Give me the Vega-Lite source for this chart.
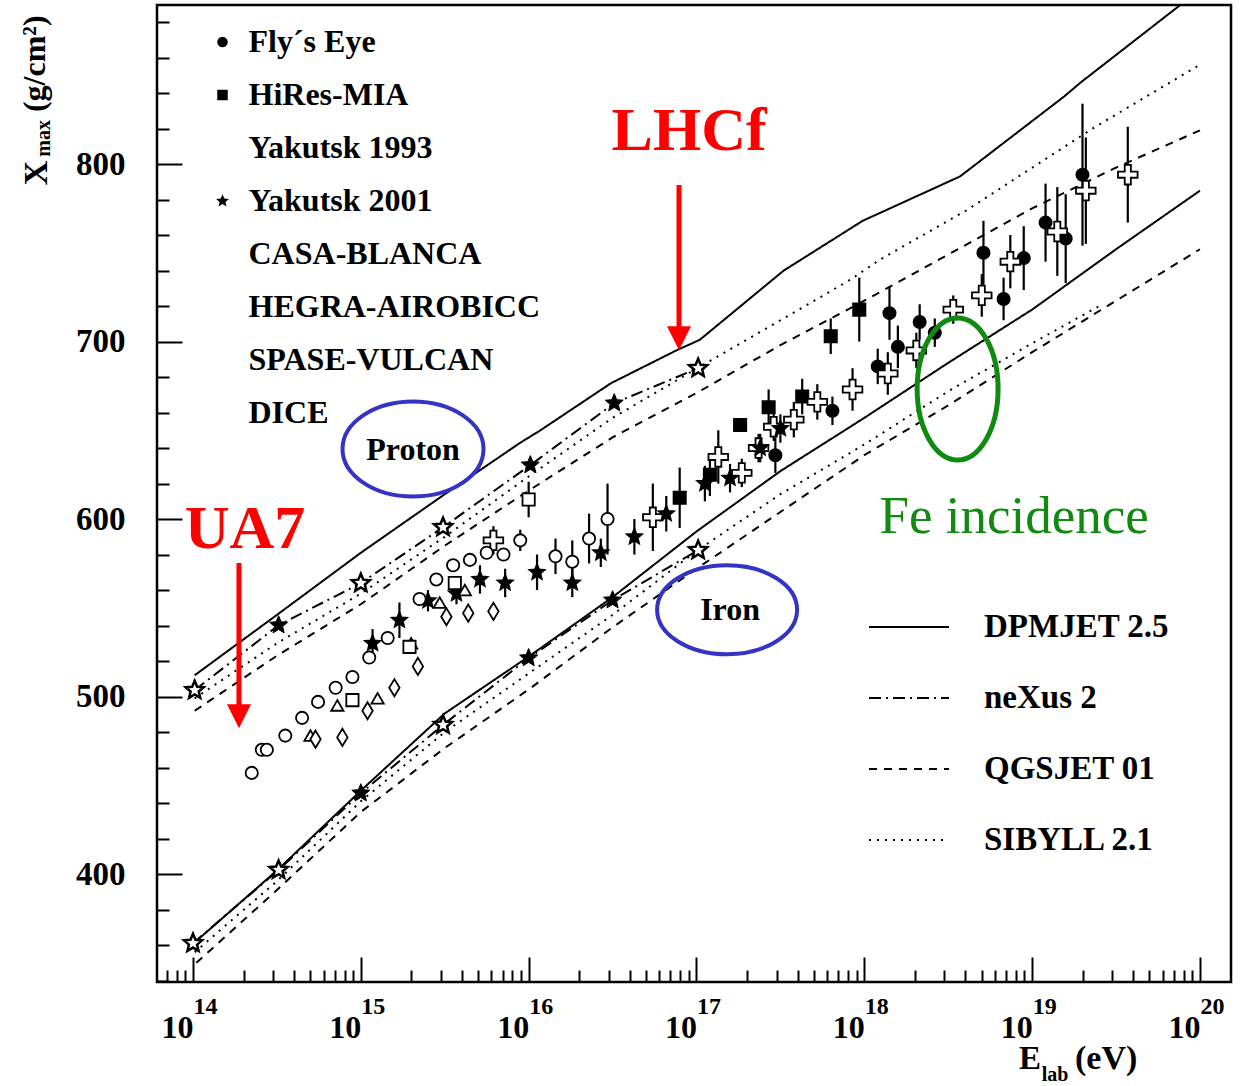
{
  "$schema": "https://vega.github.io/schema/vega-lite/v6.json",
  "width": 1074,
  "height": 977,
  "autosize": "none",
  "padding": {"left": 157, "top": 5, "right": 16, "bottom": 104},
  "background": "white",
  "config": {
    "view": {"stroke": "black", "strokeWidth": 2.5},
    "axis": {"domain": false, "grid": false, "labelFont": "Liberation Serif", "labelFontWeight": "bold", "labelColor": "black", "tickColor": "black", "labelFlush": false, "labelOverlap": false},
    "legend": {"labelFont": "Liberation Serif", "labelFontWeight": "bold", "labelColor": "black", "labelLimit": 1000, "padding": 0},
    "text": {"font": "Liberation Serif"}
  },
  "datasets": {
    "models": [
      {"model": "DPMJET 2.5", "particle": "p", "lgE": 14.01, "X": 512},
      {"model": "DPMJET 2.5", "particle": "p", "lgE": 14.5, "X": 546},
      {"model": "DPMJET 2.5", "particle": "p", "lgE": 15.0, "X": 581},
      {"model": "DPMJET 2.5", "particle": "p", "lgE": 15.5, "X": 614},
      {"model": "DPMJET 2.5", "particle": "p", "lgE": 15.95, "X": 643},
      {"model": "DPMJET 2.5", "particle": "p", "lgE": 16.07, "X": 650},
      {"model": "DPMJET 2.5", "particle": "p", "lgE": 16.49, "X": 676.5},
      {"model": "DPMJET 2.5", "particle": "p", "lgE": 16.88, "X": 695},
      {"model": "DPMJET 2.5", "particle": "p", "lgE": 17.02, "X": 701},
      {"model": "DPMJET 2.5", "particle": "p", "lgE": 17.52, "X": 740},
      {"model": "DPMJET 2.5", "particle": "p", "lgE": 17.99, "X": 768},
      {"model": "DPMJET 2.5", "particle": "p", "lgE": 18.57, "X": 793},
      {"model": "DPMJET 2.5", "particle": "p", "lgE": 19.19, "X": 838},
      {"model": "DPMJET 2.5", "particle": "p", "lgE": 19.29, "X": 846},
      {"model": "DPMJET 2.5", "particle": "p", "lgE": 19.88, "X": 889.4},
      {"model": "neXus 2", "particle": "p", "lgE": 14.01, "X": 503.6},
      {"model": "neXus 2", "particle": "p", "lgE": 14.51, "X": 540.2},
      {"model": "neXus 2", "particle": "p", "lgE": 15.0, "X": 563.9},
      {"model": "neXus 2", "particle": "p", "lgE": 15.49, "X": 595.4},
      {"model": "neXus 2", "particle": "p", "lgE": 16.01, "X": 630.4},
      {"model": "neXus 2", "particle": "p", "lgE": 16.51, "X": 665.3},
      {"model": "neXus 2", "particle": "p", "lgE": 17.01, "X": 685},
      {"model": "SIBYLL 2.1", "particle": "p", "lgE": 14.01, "X": 499},
      {"model": "SIBYLL 2.1", "particle": "p", "lgE": 14.5, "X": 530},
      {"model": "SIBYLL 2.1", "particle": "p", "lgE": 15.0, "X": 558},
      {"model": "SIBYLL 2.1", "particle": "p", "lgE": 15.5, "X": 590},
      {"model": "SIBYLL 2.1", "particle": "p", "lgE": 16.0, "X": 624},
      {"model": "SIBYLL 2.1", "particle": "p", "lgE": 16.5, "X": 657},
      {"model": "SIBYLL 2.1", "particle": "p", "lgE": 17.06, "X": 688},
      {"model": "SIBYLL 2.1", "particle": "p", "lgE": 17.5, "X": 712},
      {"model": "SIBYLL 2.1", "particle": "p", "lgE": 17.92, "X": 735},
      {"model": "SIBYLL 2.1", "particle": "p", "lgE": 18.09, "X": 746},
      {"model": "SIBYLL 2.1", "particle": "p", "lgE": 18.61, "X": 774},
      {"model": "SIBYLL 2.1", "particle": "p", "lgE": 19.36, "X": 820},
      {"model": "SIBYLL 2.1", "particle": "p", "lgE": 19.84, "X": 847},
      {"model": "SIBYLL 2.1", "particle": "p", "lgE": 20.0, "X": 856},
      {"model": "QGSJET 01", "particle": "p", "lgE": 14.01, "X": 492},
      {"model": "QGSJET 01", "particle": "p", "lgE": 14.5, "X": 523},
      {"model": "QGSJET 01", "particle": "p", "lgE": 15.0, "X": 552},
      {"model": "QGSJET 01", "particle": "p", "lgE": 15.5, "X": 585},
      {"model": "QGSJET 01", "particle": "p", "lgE": 16.0, "X": 616},
      {"model": "QGSJET 01", "particle": "p", "lgE": 16.5, "X": 646},
      {"model": "QGSJET 01", "particle": "p", "lgE": 17.0, "X": 671},
      {"model": "QGSJET 01", "particle": "p", "lgE": 17.5, "X": 698},
      {"model": "QGSJET 01", "particle": "p", "lgE": 18.0, "X": 723},
      {"model": "QGSJET 01", "particle": "p", "lgE": 18.5, "X": 749},
      {"model": "QGSJET 01", "particle": "p", "lgE": 19.0, "X": 775},
      {"model": "QGSJET 01", "particle": "p", "lgE": 19.5, "X": 798},
      {"model": "QGSJET 01", "particle": "p", "lgE": 20.0, "X": 819},
      {"model": "DPMJET 2.5", "particle": "Fe", "lgE": 14.01, "X": 361.5},
      {"model": "DPMJET 2.5", "particle": "Fe", "lgE": 14.5, "X": 402},
      {"model": "DPMJET 2.5", "particle": "Fe", "lgE": 15.0, "X": 447},
      {"model": "DPMJET 2.5", "particle": "Fe", "lgE": 15.5, "X": 490.5},
      {"model": "DPMJET 2.5", "particle": "Fe", "lgE": 16.0, "X": 522.5},
      {"model": "DPMJET 2.5", "particle": "Fe", "lgE": 16.5, "X": 556},
      {"model": "DPMJET 2.5", "particle": "Fe", "lgE": 17.0, "X": 593},
      {"model": "DPMJET 2.5", "particle": "Fe", "lgE": 17.5, "X": 627},
      {"model": "DPMJET 2.5", "particle": "Fe", "lgE": 18.0, "X": 657},
      {"model": "DPMJET 2.5", "particle": "Fe", "lgE": 18.5, "X": 688},
      {"model": "DPMJET 2.5", "particle": "Fe", "lgE": 19.0, "X": 718},
      {"model": "DPMJET 2.5", "particle": "Fe", "lgE": 19.5, "X": 752},
      {"model": "DPMJET 2.5", "particle": "Fe", "lgE": 20.0, "X": 785},
      {"model": "neXus 2", "particle": "Fe", "lgE": 14.0, "X": 361},
      {"model": "neXus 2", "particle": "Fe", "lgE": 14.51, "X": 402.3},
      {"model": "neXus 2", "particle": "Fe", "lgE": 15.0, "X": 445.6},
      {"model": "neXus 2", "particle": "Fe", "lgE": 15.49, "X": 484},
      {"model": "neXus 2", "particle": "Fe", "lgE": 16.0, "X": 521.7},
      {"model": "neXus 2", "particle": "Fe", "lgE": 16.5, "X": 554.3},
      {"model": "neXus 2", "particle": "Fe", "lgE": 17.01, "X": 582.5},
      {"model": "SIBYLL 2.1", "particle": "Fe", "lgE": 14.01, "X": 356},
      {"model": "SIBYLL 2.1", "particle": "Fe", "lgE": 14.5, "X": 396},
      {"model": "SIBYLL 2.1", "particle": "Fe", "lgE": 15.0, "X": 441},
      {"model": "SIBYLL 2.1", "particle": "Fe", "lgE": 15.5, "X": 480},
      {"model": "SIBYLL 2.1", "particle": "Fe", "lgE": 16.0, "X": 513},
      {"model": "SIBYLL 2.1", "particle": "Fe", "lgE": 16.5, "X": 546},
      {"model": "SIBYLL 2.1", "particle": "Fe", "lgE": 17.0, "X": 582},
      {"model": "SIBYLL 2.1", "particle": "Fe", "lgE": 17.5, "X": 614},
      {"model": "SIBYLL 2.1", "particle": "Fe", "lgE": 18.0, "X": 642},
      {"model": "SIBYLL 2.1", "particle": "Fe", "lgE": 18.5, "X": 672},
      {"model": "SIBYLL 2.1", "particle": "Fe", "lgE": 19.0, "X": 699},
      {"model": "SIBYLL 2.1", "particle": "Fe", "lgE": 19.4, "X": 720},
      {"model": "QGSJET 01", "particle": "Fe", "lgE": 14.02, "X": 350},
      {"model": "QGSJET 01", "particle": "Fe", "lgE": 14.5, "X": 391},
      {"model": "QGSJET 01", "particle": "Fe", "lgE": 15.0, "X": 435},
      {"model": "QGSJET 01", "particle": "Fe", "lgE": 15.5, "X": 471},
      {"model": "QGSJET 01", "particle": "Fe", "lgE": 16.0, "X": 504},
      {"model": "QGSJET 01", "particle": "Fe", "lgE": 16.5, "X": 539},
      {"model": "QGSJET 01", "particle": "Fe", "lgE": 17.0, "X": 572},
      {"model": "QGSJET 01", "particle": "Fe", "lgE": 17.5, "X": 604},
      {"model": "QGSJET 01", "particle": "Fe", "lgE": 18.0, "X": 636},
      {"model": "QGSJET 01", "particle": "Fe", "lgE": 18.5, "X": 664},
      {"model": "QGSJET 01", "particle": "Fe", "lgE": 19.0, "X": 694},
      {"model": "QGSJET 01", "particle": "Fe", "lgE": 19.5, "X": 723},
      {"model": "QGSJET 01", "particle": "Fe", "lgE": 20.0, "X": 752}
    ],
    "stars": [
      {"particle": "p", "lgE": 14.01, "X": 503.6, "symbol": "open"},
      {"particle": "p", "lgE": 14.51, "X": 540.2, "symbol": "filled"},
      {"particle": "p", "lgE": 15.0, "X": 563.9, "symbol": "open"},
      {"particle": "p", "lgE": 15.49, "X": 595.4, "symbol": "open"},
      {"particle": "p", "lgE": 16.01, "X": 630.4, "symbol": "filled"},
      {"particle": "p", "lgE": 16.51, "X": 665.3, "symbol": "filled"},
      {"particle": "p", "lgE": 17.01, "X": 685, "symbol": "open"},
      {"particle": "Fe", "lgE": 14.0, "X": 361, "symbol": "open"},
      {"particle": "Fe", "lgE": 14.51, "X": 402.3, "symbol": "open"},
      {"particle": "Fe", "lgE": 15.0, "X": 445.6, "symbol": "filled"},
      {"particle": "Fe", "lgE": 15.49, "X": 484, "symbol": "open"},
      {"particle": "Fe", "lgE": 16.0, "X": 521.7, "symbol": "filled"},
      {"particle": "Fe", "lgE": 16.5, "X": 554.3, "symbol": "filled"},
      {"particle": "Fe", "lgE": 17.01, "X": 582.5, "symbol": "open"}
    ],
    "exps": [
      {"exp": "Fly´s Eye", "lgE": 17.47, "X": 636, "err": 10},
      {"exp": "Fly´s Eye", "lgE": 17.81, "X": 661, "err": 8},
      {"exp": "Fly´s Eye", "lgE": 18.08, "X": 686, "err": 10},
      {"exp": "Fly´s Eye", "lgE": 18.15, "X": 716, "err": 15},
      {"exp": "Fly´s Eye", "lgE": 18.2, "X": 697, "err": 12},
      {"exp": "Fly´s Eye", "lgE": 18.33, "X": 711, "err": 10},
      {"exp": "Fly´s Eye", "lgE": 18.42, "X": 705, "err": 8},
      {"exp": "Fly´s Eye", "lgE": 18.71, "X": 750, "err": 18},
      {"exp": "Fly´s Eye", "lgE": 18.83, "X": 724, "err": 12},
      {"exp": "Fly´s Eye", "lgE": 18.95, "X": 747, "err": 18},
      {"exp": "Fly´s Eye", "lgE": 19.08, "X": 767, "err": 22},
      {"exp": "Fly´s Eye", "lgE": 19.2, "X": 758, "err": 25},
      {"exp": "Fly´s Eye", "lgE": 19.3, "X": 794, "err": 40},
      {"exp": "HiRes-MIA", "lgE": 16.9, "X": 612, "err": 17},
      {"exp": "HiRes-MIA", "lgE": 17.08, "X": 625, "err": 12},
      {"exp": "HiRes-MIA", "lgE": 17.26, "X": 653, "err": 0},
      {"exp": "HiRes-MIA", "lgE": 17.43, "X": 663, "err": 10},
      {"exp": "HiRes-MIA", "lgE": 17.63, "X": 669, "err": 10},
      {"exp": "HiRes-MIA", "lgE": 17.8, "X": 703, "err": 10},
      {"exp": "HiRes-MIA", "lgE": 17.97, "X": 718, "err": 18},
      {"exp": "Yakutsk 1993", "lgE": 15.79, "X": 588, "err": 8},
      {"exp": "Yakutsk 1993", "lgE": 16.74, "X": 601, "err": 19},
      {"exp": "Yakutsk 1993", "lgE": 17.13, "X": 635, "err": 15},
      {"exp": "Yakutsk 1993", "lgE": 17.27, "X": 626, "err": 8},
      {"exp": "Yakutsk 1993", "lgE": 17.37, "X": 640, "err": 8},
      {"exp": "Yakutsk 1993", "lgE": 17.46, "X": 652, "err": 8},
      {"exp": "Yakutsk 1993", "lgE": 17.58, "X": 656, "err": 10},
      {"exp": "Yakutsk 1993", "lgE": 17.72, "X": 666, "err": 10},
      {"exp": "Yakutsk 1993", "lgE": 17.93, "X": 673, "err": 12},
      {"exp": "Yakutsk 1993", "lgE": 18.14, "X": 682, "err": 12},
      {"exp": "Yakutsk 1993", "lgE": 18.31, "X": 695, "err": 10},
      {"exp": "Yakutsk 1993", "lgE": 18.53, "X": 718, "err": 8},
      {"exp": "Yakutsk 1993", "lgE": 18.7, "X": 726, "err": 12},
      {"exp": "Yakutsk 1993", "lgE": 18.87, "X": 745, "err": 15},
      {"exp": "Yakutsk 1993", "lgE": 19.15, "X": 762, "err": 25},
      {"exp": "Yakutsk 1993", "lgE": 19.32, "X": 785, "err": 30},
      {"exp": "Yakutsk 1993", "lgE": 19.57, "X": 794, "err": 27},
      {"exp": "Yakutsk 2001", "lgE": 15.07, "X": 530, "err": 8},
      {"exp": "Yakutsk 2001", "lgE": 15.23, "X": 543, "err": 10},
      {"exp": "Yakutsk 2001", "lgE": 15.4, "X": 554, "err": 6},
      {"exp": "Yakutsk 2001", "lgE": 15.57, "X": 558, "err": 6},
      {"exp": "Yakutsk 2001", "lgE": 15.71, "X": 566, "err": 8},
      {"exp": "Yakutsk 2001", "lgE": 15.86, "X": 564, "err": 8},
      {"exp": "Yakutsk 2001", "lgE": 16.05, "X": 570, "err": 10},
      {"exp": "Yakutsk 2001", "lgE": 16.26, "X": 564, "err": 8},
      {"exp": "Yakutsk 2001", "lgE": 16.43, "X": 581, "err": 8},
      {"exp": "Yakutsk 2001", "lgE": 16.63, "X": 590, "err": 10},
      {"exp": "Yakutsk 2001", "lgE": 16.82, "X": 603, "err": 10},
      {"exp": "Yakutsk 2001", "lgE": 17.05, "X": 620, "err": 10},
      {"exp": "Yakutsk 2001", "lgE": 17.2, "X": 623, "err": 8},
      {"exp": "Yakutsk 2001", "lgE": 17.38, "X": 640, "err": 8},
      {"exp": "Yakutsk 2001", "lgE": 17.5, "X": 651, "err": 8},
      {"exp": "CASA-BLANCA", "lgE": 14.35, "X": 457, "err": 0},
      {"exp": "CASA-BLANCA", "lgE": 14.41, "X": 470, "err": 0},
      {"exp": "CASA-BLANCA", "lgE": 14.44, "X": 470, "err": 0},
      {"exp": "CASA-BLANCA", "lgE": 14.55, "X": 478, "err": 0},
      {"exp": "CASA-BLANCA", "lgE": 14.65, "X": 488, "err": 0},
      {"exp": "CASA-BLANCA", "lgE": 14.745, "X": 497, "err": 0},
      {"exp": "CASA-BLANCA", "lgE": 14.85, "X": 505, "err": 0},
      {"exp": "CASA-BLANCA", "lgE": 14.95, "X": 511, "err": 0},
      {"exp": "CASA-BLANCA", "lgE": 15.05, "X": 522, "err": 0},
      {"exp": "CASA-BLANCA", "lgE": 15.16, "X": 533, "err": 0},
      {"exp": "CASA-BLANCA", "lgE": 15.35, "X": 555, "err": 0},
      {"exp": "CASA-BLANCA", "lgE": 15.45, "X": 566, "err": 0},
      {"exp": "CASA-BLANCA", "lgE": 15.55, "X": 574, "err": 0},
      {"exp": "CASA-BLANCA", "lgE": 15.65, "X": 577, "err": 0},
      {"exp": "CASA-BLANCA", "lgE": 15.75, "X": 581, "err": 0},
      {"exp": "CASA-BLANCA", "lgE": 15.85, "X": 580, "err": 0},
      {"exp": "CASA-BLANCA", "lgE": 15.95, "X": 588, "err": 6},
      {"exp": "CASA-BLANCA", "lgE": 16.16, "X": 579, "err": 10},
      {"exp": "CASA-BLANCA", "lgE": 16.26, "X": 576, "err": 12},
      {"exp": "CASA-BLANCA", "lgE": 16.36, "X": 589, "err": 14},
      {"exp": "CASA-BLANCA", "lgE": 16.47, "X": 600, "err": 20},
      {"exp": "HEGRA-AIROBICC", "lgE": 14.7, "X": 478, "err": 0},
      {"exp": "HEGRA-AIROBICC", "lgE": 14.86, "X": 495, "err": 0},
      {"exp": "HEGRA-AIROBICC", "lgE": 15.1, "X": 499, "err": 0},
      {"exp": "HEGRA-AIROBICC", "lgE": 15.3, "X": 530, "err": 0},
      {"exp": "HEGRA-AIROBICC", "lgE": 15.47, "X": 553, "err": 0},
      {"exp": "HEGRA-AIROBICC", "lgE": 15.62, "X": 560, "err": 0},
      {"exp": "SPASE-VULCAN", "lgE": 14.73, "X": 476, "err": 0},
      {"exp": "SPASE-VULCAN", "lgE": 14.89, "X": 477, "err": 0},
      {"exp": "SPASE-VULCAN", "lgE": 15.04, "X": 492, "err": 0},
      {"exp": "SPASE-VULCAN", "lgE": 15.2, "X": 505, "err": 0},
      {"exp": "SPASE-VULCAN", "lgE": 15.34, "X": 517, "err": 0},
      {"exp": "SPASE-VULCAN", "lgE": 15.51, "X": 545, "err": 0},
      {"exp": "SPASE-VULCAN", "lgE": 15.64, "X": 547, "err": 0},
      {"exp": "SPASE-VULCAN", "lgE": 15.79, "X": 548, "err": 0},
      {"exp": "DICE", "lgE": 14.95, "X": 498, "err": 0},
      {"exp": "DICE", "lgE": 15.29, "X": 528, "err": 0},
      {"exp": "DICE", "lgE": 15.56, "X": 564, "err": 0},
      {"exp": "DICE", "lgE": 16.0, "X": 611, "err": 10}
    ]
  },
  "resolve": {"axis": {"x": "independent", "y": "independent"}},
  "layer": [
    {
      "data": {"name": "models"},
      "mark": {"type": "line", "strokeWidth": 2, "color": "black"},
      "encoding": {
        "x": {"field": "lgE", "type": "quantitative", "scale": {"domain": [13.7855, 20.185], "nice": false, "zero": false},
          "axis": {"orient": "bottom", "values": [14, 15, 16, 17, 18, 19, 20], "ticks": false, "labelExpr": "'10'", "labelAlign": "right", "labelDx": 4, "labelBaseline": "alphabetic", "labelPadding": 55, "labelFontSize": 32, "title": null}},
        "y": {"field": "X", "type": "quantitative", "scale": {"domain": [339.2, 889.6], "nice": false, "zero": false},
          "axis": {"orient": "left", "values": [400, 500, 600, 700, 800], "ticks": false, "labelPadding": 32, "labelFontSize": 33, "labelBaseline": "middle", "title": null}},
        "strokeDash": {"field": "model", "type": "nominal",
          "scale": {"domain": ["DPMJET 2.5", "neXus 2", "QGSJET 01", "SIBYLL 2.1"], "range": [[1, 0], [12, 5, 2, 5], [8, 7], [2, 6]]},
          "legend": {"orient": "none", "legendX": 731, "legendY": 601, "title": null, "symbolType": "M -2 0 L 2 0", "symbolSize": 1600, "symbolStrokeWidth": 2, "symbolStrokeColor": "black", "labelOffset": 54, "labelFontSize": 33, "rowPadding": 33}},
        "detail": {"field": "particle", "type": "nominal"}
      }
    },
    {
      "data": {"name": "stars"},
      "transform": [{"filter": "datum.symbol == 'filled'"}],
      "mark": {"type": "point", "shape": "M 0 -1 L 0.2645 -0.364 L 0.951 -0.309 L 0.428 0.139 L 0.588 0.809 L 0 0.45 L -0.588 0.809 L -0.428 0.139 L -0.951 -0.309 L -0.2645 -0.364 Z", "filled": true, "fill": "black", "stroke": "black", "strokeWidth": 1, "size": 360, "opacity": 1},
      "encoding": {
        "x": {"field": "lgE", "type": "quantitative", "axis": {"orient": "bottom", "values": [14, 15, 16, 17, 18, 19, 20], "tickSize": -25, "tickWidth": 2, "labels": false, "title": null}},
        "y": {"field": "X", "type": "quantitative", "axis": {"orient": "left", "values": [400, 500, 600, 700, 800], "tickSize": -25, "tickWidth": 2, "labels": false, "title": null}}
      }
    },
    {
      "data": {"name": "stars"},
      "transform": [{"filter": "datum.symbol == 'open'"}],
      "mark": {"type": "point", "shape": "M 0 -1 L 0.2645 -0.364 L 0.951 -0.309 L 0.428 0.139 L 0.588 0.809 L 0 0.45 L -0.588 0.809 L -0.428 0.139 L -0.951 -0.309 L -0.2645 -0.364 Z", "filled": true, "fill": "white", "stroke": "black", "strokeWidth": 2.5, "size": 360, "opacity": 1},
      "encoding": {
        "x": {"field": "lgE", "type": "quantitative", "axis": {"orient": "bottom", "values": [13.845, 13.903, 13.954, 14.301, 14.477, 14.602, 14.699, 14.778, 14.845, 14.903, 14.954, 15.301, 15.477, 15.602, 15.699, 15.778, 15.845, 15.903, 15.954, 16.301, 16.477, 16.602, 16.699, 16.778, 16.845, 16.903, 16.954, 17.301, 17.477, 17.602, 17.699, 17.778, 17.845, 17.903, 17.954, 18.301, 18.477, 18.602, 18.699, 18.778, 18.845, 18.903, 18.954, 19.301, 19.477, 19.602, 19.699, 19.778, 19.845, 19.903, 19.954], "tickSize": -12, "tickWidth": 2, "labels": false, "title": null}},
        "y": {"field": "X", "type": "quantitative", "axis": {"orient": "left", "values": [340, 360, 380, 420, 440, 460, 480, 520, 540, 560, 580, 620, 640, 660, 680, 720, 740, 760, 780, 820, 840, 860, 880], "tickSize": -12, "tickWidth": 2, "labels": false, "title": null}}
      }
    },
    {
      "data": {"name": "exps"},
      "transform": [{"filter": "datum.err > 0"}],
      "mark": {"type": "errorbar", "thickness": 2.2, "color": "black"},
      "encoding": {
        "x": {"field": "lgE", "type": "quantitative", "axis": null},
        "y": {"field": "X", "type": "quantitative", "axis": null},
        "yError": {"field": "err"}
      }
    },
    {
      "data": {"name": "exps"},
      "mark": {"type": "point", "filled": true, "stroke": "black", "strokeWidth": 1.8, "opacity": 1, "size": 150},
      "encoding": {
        "x": {"field": "lgE", "type": "quantitative", "axis": {"orient": "bottom", "values": [14, 15, 16, 17, 18, 19, 20], "ticks": false, "labelAlign": "left", "labelDx": 18, "labelBaseline": "alphabetic", "labelPadding": 31, "labelFontSize": 24, "title": null}},
        "y": {"field": "X", "type": "quantitative", "axis": null},
        "shape": {"field": "exp", "type": "nominal",
          "scale": {"domain": ["Fly´s Eye", "HiRes-MIA", "Yakutsk 1993", "Yakutsk 2001", "CASA-BLANCA", "HEGRA-AIROBICC", "SPASE-VULCAN", "DICE"],
            "range": ["circle", "square", "M -0.5 -1.6 L 0.5 -1.6 L 0.5 -0.5 L 1.6 -0.5 L 1.6 0.5 L 0.5 0.5 L 0.5 1.6 L -0.5 1.6 L -0.5 0.5 L -1.6 0.5 L -1.6 -0.5 L -0.5 -0.5 Z", "M 0 -1.3 L 0.344 -0.473 L 1.236 -0.402 L 0.556 0.181 L 0.764 1.052 L 0 0.585 L -0.764 1.052 L -0.556 0.181 L -1.236 -0.402 L -0.344 -0.473 Z", "circle", "triangle-up", "M 0 -1.4 L 0.85 0 L 0 1.4 L -0.85 0 Z", "square"]},
          "legend": {"orient": "none", "legendX": 49.5, "legendY": 21, "title": null, "labelFontSize": 32, "labelOffset": 10, "rowPadding": 21, "symbolSize": 110, "symbolStrokeColor": "black", "symbolStrokeWidth": 1.5,
            "encode": {"symbols": {"update": {"stroke": {"value": "black"}, "strokeWidth": {"value": 1.5}}}}}},
        "fill": {"field": "exp", "type": "nominal",
          "scale": {"domain": ["Fly´s Eye", "HiRes-MIA", "Yakutsk 1993", "Yakutsk 2001", "CASA-BLANCA", "HEGRA-AIROBICC", "SPASE-VULCAN", "DICE"],
            "range": ["black", "black", "white", "black", "white", "white", "white", "white"]},
          "legend": {"orient": "none", "legendX": 49.5, "legendY": 21, "title": null, "labelFontSize": 32, "labelOffset": 10, "rowPadding": 21, "symbolSize": 110, "symbolStrokeColor": "black", "symbolStrokeWidth": 1.5,
            "encode": {"symbols": {"update": {"stroke": {"value": "black"}, "strokeWidth": {"value": 1.5}}}}}}
      }
    },
    {
      "data": {"values": [{}]},
      "mark": {"type": "point", "shape": "M 1 0 C 1 0.3722 0.5523 0.674 0 0.674 C -0.5523 0.674 -1 0.3722 -1 0 C -1 -0.3722 -0.5523 -0.674 0 -0.674 C 0.5523 -0.674 1 -0.3722 1 0 Z", "size": 19881, "filled": false, "stroke": "#3434c4", "strokeWidth": 4, "opacity": 1},
      "encoding": {"x": {"datum": 15.311, "type": "quantitative", "axis": null}, "y": {"datum": 639.5, "type": "quantitative", "axis": null}}
    },
    {
      "data": {"values": [{}]},
      "mark": {"type": "point", "shape": "M 1 0 C 1 0.3513 0.5523 0.636 0 0.636 C -0.5523 0.636 -1 0.3513 -1 0 C -1 -0.3513 -0.5523 -0.636 0 -0.636 C 0.5523 -0.636 1 -0.3513 1 0 Z", "size": 19600, "filled": false, "stroke": "#3434c4", "strokeWidth": 4, "opacity": 1},
      "encoding": {"x": {"datum": 17.1824, "type": "quantitative", "axis": null}, "y": {"datum": 548.9, "type": "quantitative", "axis": null}}
    },
    {
      "data": {"values": [{}]},
      "mark": {"type": "point", "shape": "M 0.57 0 C 0.57 0.5523 0.3148 1 0 1 C -0.3148 1 -0.57 0.5523 -0.57 0 C -0.57 -0.5523 -0.3148 -1 0 -1 C 0.3148 -1 0.57 -0.5523 0.57 0 Z", "size": 20164, "filled": false, "stroke": "#118a11", "strokeWidth": 5, "opacity": 1},
      "encoding": {"x": {"datum": 18.556, "type": "quantitative", "axis": null}, "y": {"datum": 673.3, "type": "quantitative", "axis": null}}
    },
    {
      "data": {"values": [{}]},
      "mark": {"type": "text", "text": "Proton", "font": "Liberation Serif", "fontWeight": "bold", "fontSize": 32, "align": "center", "baseline": "alphabetic", "color": "black"},
      "encoding": {"x": {"datum": 15.311, "type": "quantitative", "axis": null}, "y": {"datum": 633.3, "type": "quantitative", "axis": null}}
    },
    {
      "data": {"values": [{}]},
      "mark": {"type": "text", "text": "Iron", "font": "Liberation Serif", "fontWeight": "bold", "fontSize": 32, "align": "center", "baseline": "alphabetic", "color": "black"},
      "encoding": {"x": {"datum": 17.2003, "type": "quantitative", "axis": null}, "y": {"datum": 543.2, "type": "quantitative", "axis": null}}
    },
    {
      "data": {"values": [{}]},
      "mark": {"type": "text", "text": "Fe incidence", "font": "Liberation Serif", "fontWeight": "normal", "fontSize": 53, "align": "center", "baseline": "alphabetic", "color": "#118a11"},
      "encoding": {"x": {"datum": 18.893, "type": "quantitative", "axis": null}, "y": {"datum": 592.2, "type": "quantitative", "axis": null}}
    },
    {
      "data": {"values": [{}]},
      "mark": {"type": "text", "text": "LHCf", "font": "Liberation Serif", "fontWeight": "bold", "fontSize": 62, "align": "center", "baseline": "alphabetic", "color": "#ff0000"},
      "encoding": {"x": {"datum": 16.956, "type": "quantitative", "axis": null}, "y": {"datum": 807.9, "type": "quantitative", "axis": null}}
    },
    {
      "data": {"values": [{}]},
      "mark": {"type": "text", "text": "UA7", "font": "Liberation Serif", "fontWeight": "bold", "fontSize": 62, "align": "center", "baseline": "alphabetic", "color": "#ff0000"},
      "encoding": {"x": {"datum": 14.31, "type": "quantitative", "axis": null}, "y": {"datum": 583.8, "type": "quantitative", "axis": null}}
    },
    {
      "data": {"values": [{}]},
      "mark": {"type": "rule", "color": "#ff0000", "strokeWidth": 5},
      "encoding": {"x": {"datum": 16.896, "type": "quantitative", "axis": null}, "y": {"datum": 788.2, "type": "quantitative", "axis": null}, "y2": {"datum": 707.7}}
    },
    {
      "data": {"values": [{}]},
      "mark": {"type": "point", "shape": "M -1 -1 L 1 -1 L 0 1 Z", "size": 576, "filled": true, "color": "#ff0000", "opacity": 1},
      "encoding": {"x": {"datum": 16.896, "type": "quantitative", "axis": null}, "y": {"datum": 701.8, "type": "quantitative", "axis": null}}
    },
    {
      "data": {"values": [{}]},
      "mark": {"type": "rule", "color": "#ff0000", "strokeWidth": 5},
      "encoding": {"x": {"datum": 14.274, "type": "quantitative", "axis": null}, "y": {"datum": 575.3, "type": "quantitative", "axis": null}, "y2": {"datum": 494.0}}
    },
    {
      "data": {"values": [{}]},
      "mark": {"type": "point", "shape": "M -1 -1 L 1 -1 L 0 1 Z", "size": 576, "filled": true, "color": "#ff0000", "opacity": 1},
      "encoding": {"x": {"datum": 14.274, "type": "quantitative", "axis": null}, "y": {"datum": 488.9, "type": "quantitative", "axis": null}}
    },
    {
      "data": {"values": [{}]},
      "mark": {"type": "text", "text": "X", "font": "Liberation Serif", "fontWeight": "bold", "fontSize": 34, "angle": 270, "align": "center", "baseline": "alphabetic", "color": "black"},
      "encoding": {"x": {"datum": 13.13, "type": "quantitative", "axis": null}, "y": {"datum": 795.0, "type": "quantitative", "axis": null}}
    },
    {
      "data": {"values": [{}]},
      "mark": {"type": "text", "text": "max", "font": "Liberation Serif", "fontWeight": "bold", "fontSize": 20, "angle": 270, "align": "center", "baseline": "alphabetic", "color": "black"},
      "encoding": {"x": {"datum": 13.1479, "type": "quantitative", "axis": null}, "y": {"datum": 814.5, "type": "quantitative", "axis": null}}
    },
    {
      "data": {"values": [{}]},
      "mark": {"type": "text", "text": "(g/cm²)", "font": "Liberation Serif", "fontWeight": "bold", "fontSize": 32, "angle": 270, "align": "center", "baseline": "alphabetic", "color": "black"},
      "encoding": {"x": {"datum": 13.118, "type": "quantitative", "axis": null}, "y": {"datum": 856.5, "type": "quantitative", "axis": null}}
    },
    {
      "data": {"values": [{}]},
      "mark": {"type": "text", "text": "E", "font": "Liberation Serif", "fontWeight": "bold", "fontSize": 33, "align": "center", "baseline": "alphabetic", "color": "black"},
      "encoding": {"x": {"datum": 18.988, "type": "quantitative", "axis": null}, "y": {"datum": 290.3, "type": "quantitative", "axis": null}}
    },
    {
      "data": {"values": [{}]},
      "mark": {"type": "text", "text": "lab", "font": "Liberation Serif", "fontWeight": "bold", "fontSize": 20, "align": "center", "baseline": "alphabetic", "color": "black"},
      "encoding": {"x": {"datum": 19.137, "type": "quantitative", "axis": null}, "y": {"datum": 283.6, "type": "quantitative", "axis": null}}
    },
    {
      "data": {"values": [{}]},
      "mark": {"type": "text", "text": "(eV)", "font": "Liberation Serif", "fontWeight": "bold", "fontSize": 34, "align": "center", "baseline": "alphabetic", "color": "black"},
      "encoding": {"x": {"datum": 19.441, "type": "quantitative", "axis": null}, "y": {"datum": 290.3, "type": "quantitative", "axis": null}}
    }
  ]
}
